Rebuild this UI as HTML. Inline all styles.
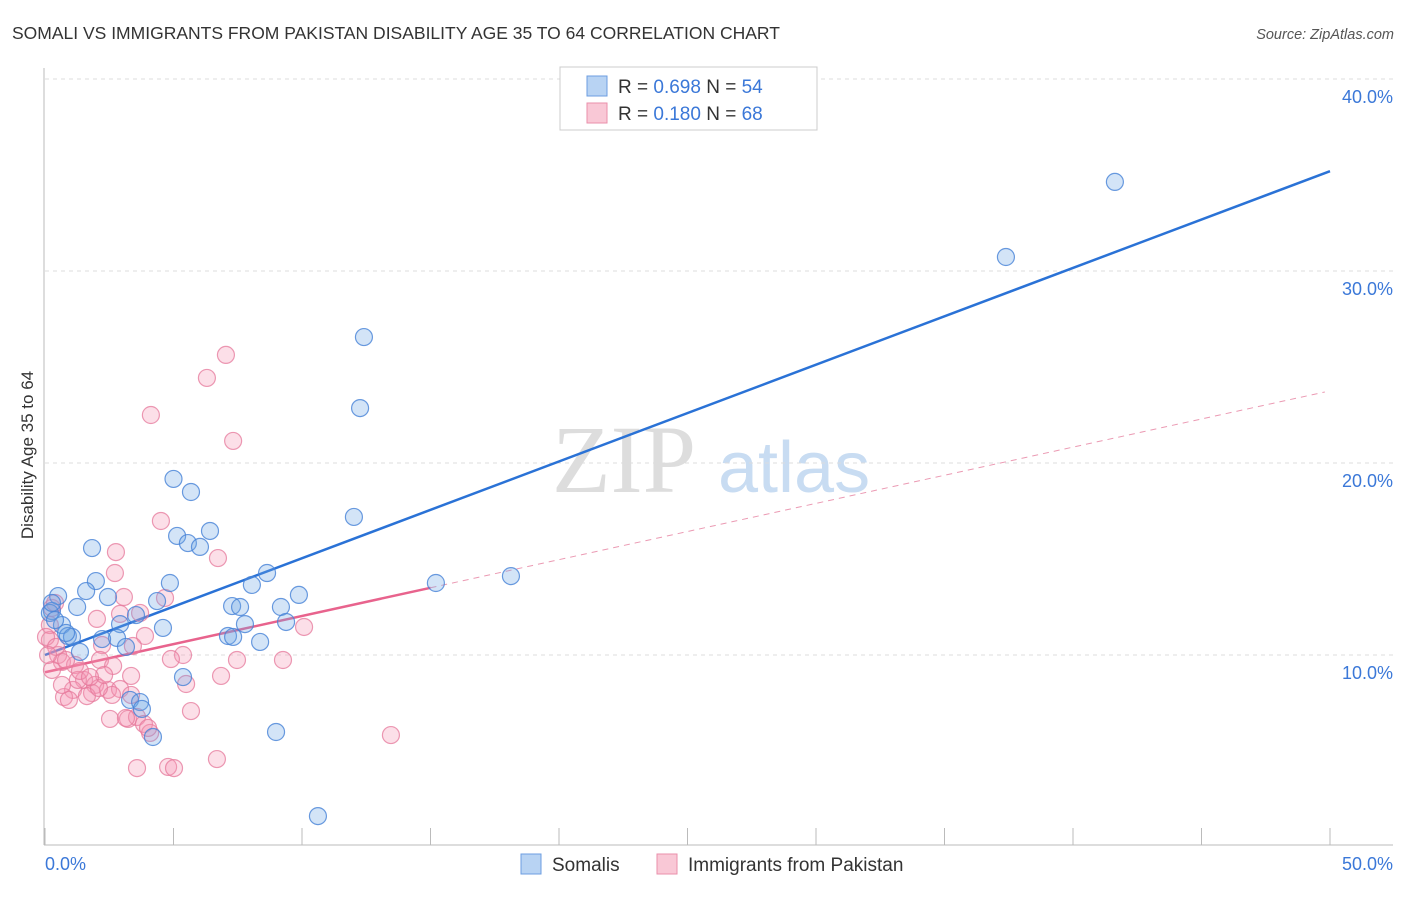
<!DOCTYPE html>
<html><head><meta charset="utf-8"><style>
body{margin:0;background:#fff;font-family:"Liberation Sans",sans-serif}
svg text{font-family:"Liberation Sans",sans-serif}
</style></head><body>
<svg id="c" width="1406" height="892" viewBox="0 0 1406 892">
<text x="12" y="39" font-size="17.5" fill="#333">SOMALI VS IMMIGRANTS FROM PAKISTAN DISABILITY AGE 35 TO 64 CORRELATION CHART</text>
<text x="1394" y="39" font-size="14.5" fill="#555" font-style="italic" text-anchor="end">Source: ZipAtlas.com</text>
<text transform="translate(33,455) rotate(-90)" font-size="17" fill="#333" text-anchor="middle">Disability Age 35 to 64</text>
<g>
<text x="552" y="492" font-size="96" fill="#ddd" font-family="Liberation Serif" style="font-family:'Liberation Serif',serif">ZIP</text>
<text x="718" y="492" font-size="72" fill="#c8dcf2">atlas</text>
</g>
<g id="grid"></g><g id="axes"></g><g id="trend"></g><g id="pts"></g>
<g>
<rect x="560" y="67" width="257" height="63" fill="#fff" stroke="#ccc"/>
<rect x="587" y="76" width="20" height="20" fill="#b8d3f3" stroke="#6c9ee0"/>
<text x="618" y="93" font-size="19" fill="#333">R = <tspan fill="#3b78d8">0.698</tspan>   N = <tspan fill="#3b78d8">54</tspan></text>
<rect x="587" y="103" width="20" height="20" fill="#f9c8d6" stroke="#ea8fab"/>
<text x="618" y="120" font-size="19" fill="#333">R =  <tspan fill="#3b78d8">0.180</tspan>   N = <tspan fill="#3b78d8">68</tspan></text>
</g>
<g>
<rect x="521" y="854" width="20" height="20" fill="#b8d3f3" stroke="#6c9ee0"/>
<text x="552" y="871" font-size="19" fill="#333">Somalis</text>
<rect x="657" y="854" width="20" height="20" fill="#f9c8d6" stroke="#ea8fab"/>
<text x="688" y="871" font-size="19" fill="#333">Immigrants from Pakistan</text>
</g>
</svg>
<script>
const yTicks=[10,20,30,40];
const xTickLabels=["0.0%","50.0%"];
const somaliX=[41.63,37.39,12.41,12.26,5.0,5.68,12.02,6.42,5.14,5.56,6.03,1.83,1.98,8.64,18.13,15.21,4.86,8.05,1.6,0.51,2.45,9.88,4.36,3.54,1.25,7.28,7.59,9.18,0.27,0.19,2.92,9.38,7.78,0.66,4.59,0.89,1.05,2.8,2.22,7.12,7.32,8.37,3.15,1.36,5.37,3.31,3.7,3.77,4.2,8.99,10.62,0.39,0.82,0.27];
const somaliY=[34.64,30.73,26.56,22.86,19.17,18.49,17.19,16.46,16.2,15.83,15.63,15.57,13.85,14.27,14.11,13.75,13.75,13.65,13.33,13.07,13.02,13.13,12.81,12.08,12.5,12.55,12.5,12.5,12.29,12.19,11.61,11.72,11.61,11.56,11.41,10.99,10.94,10.89,10.83,10.99,10.94,10.68,10.42,10.16,8.85,7.66,7.55,7.19,5.73,5.99,1.61,11.82,11.15,12.71];
const pakX=[7.04,6.3,4.12,7.32,4.51,2.76,6.73,2.72,3.07,4.67,2.92,3.7,2.02,10.08,0.27,0.39,3.89,0.19,2.22,5.37,4.9,3.42,7.47,9.26,0.51,0.66,1.17,0.27,2.14,2.65,3.35,6.85,5.49,1.52,1.95,1.09,1.83,2.45,0.74,2.92,3.35,1.63,2.61,0.93,2.1,1.28,5.68,2.53,3.23,3.58,3.85,4.09,13.46,6.69,3.58,4.79,5.02,0.19,0.04,0.43,0.82,2.3,1.36,1.75,0.66,3.15,4.01,0.12];
const pakY=[25.63,24.43,22.5,21.15,16.98,15.36,15.05,14.27,13.02,12.97,12.14,12.19,11.88,11.46,12.45,12.71,10.99,10.78,10.52,10.0,9.79,10.47,9.74,9.74,10.0,9.64,9.48,9.22,9.74,9.43,8.91,8.91,8.49,8.7,8.44,8.18,8.02,8.18,7.81,8.23,7.92,7.86,7.92,7.66,8.28,8.7,7.08,6.67,6.67,6.77,6.41,5.94,5.83,4.58,4.11,4.17,4.11,11.56,10.94,10.42,9.74,8.96,9.17,8.85,8.44,6.72,6.2,10.0];
const somaliTrend=[10.0,35.2];
const pakTrend=[9.1,13.5,23.7];
const X=v=>45+v*25.7, Y=v=>655-(v-10)*19.2;
const NS="http://www.w3.org/2000/svg";
function mk(p,t,a){const e=document.createElementNS(NS,t);for(const k in a)e.setAttribute(k,a[k]);p.appendChild(e);return e;}
const grid=document.getElementById('grid'),axes=document.getElementById('axes'),tr=document.getElementById('trend'),pts=document.getElementById('pts');
yTicks.forEach(t=>{
 const l=mk(grid,'line',{x1:45,x2:1393,y1:Y(t),y2:Y(t),stroke:'#ddd','stroke-dasharray':'4,4'});
 
 
 const tx=mk(grid,'text',{x:1393,y:Y(t)+24,'font-size':18,fill:'#3b78d8','text-anchor':'end'});
 tx.textContent=t.toFixed(1)+'%';
 
 
});
mk(axes,'line',{x1:44,x2:44,y1:68,y2:845,stroke:'#bbb'});
mk(axes,'line',{x1:44,x2:1393,y1:845,y2:845,stroke:'#bbb'});
for(let i=0;i<=10;i++){mk(axes,'line',{x1:X(i*5),x2:X(i*5),y1:828,y2:845,stroke:'#bbb'});}
const xl0=mk(axes,'text',{x:45,y:870,'font-size':18,fill:'#3b78d8'});xl0.textContent=xTickLabels[0];


const xl1=mk(axes,'text',{x:1393,y:870,'font-size':18,fill:'#3b78d8','text-anchor':'end'});xl1.textContent=xTickLabels[1];


function dot(x,y,f,s,n){const c=mk(pts,'circle',{cx:X(x),cy:Y(y),r:8.5,fill:f,stroke:s,'stroke-width':1.2});
 
 }
pakX.forEach((x,i)=>dot(x,pakY[i],'rgba(244,150,180,0.3)','rgba(230,120,155,0.75)','point-pakistan'));
somaliX.forEach((x,i)=>dot(x,somaliY[i],'rgba(110,165,230,0.3)','rgba(70,130,215,0.8)','point-somali'));
const bl=mk(tr,'line',{x1:X(0),y1:Y(somaliTrend[0]),x2:X(50),y2:Y(somaliTrend[1]),stroke:'#2a72d6','stroke-width':2.5});


const pl=mk(tr,'line',{x1:X(0),y1:Y(pakTrend[0]),x2:X(15),y2:Y(pakTrend[1]),stroke:'#e8638d','stroke-width':2.5});


const pd=mk(tr,'line',{x1:X(15),y1:Y(pakTrend[1]),x2:X(49.8),y2:Y(pakTrend[2]),stroke:'#eb9ab3','stroke-width':1,'stroke-dasharray':'6,5'});


</script>
</body></html>
